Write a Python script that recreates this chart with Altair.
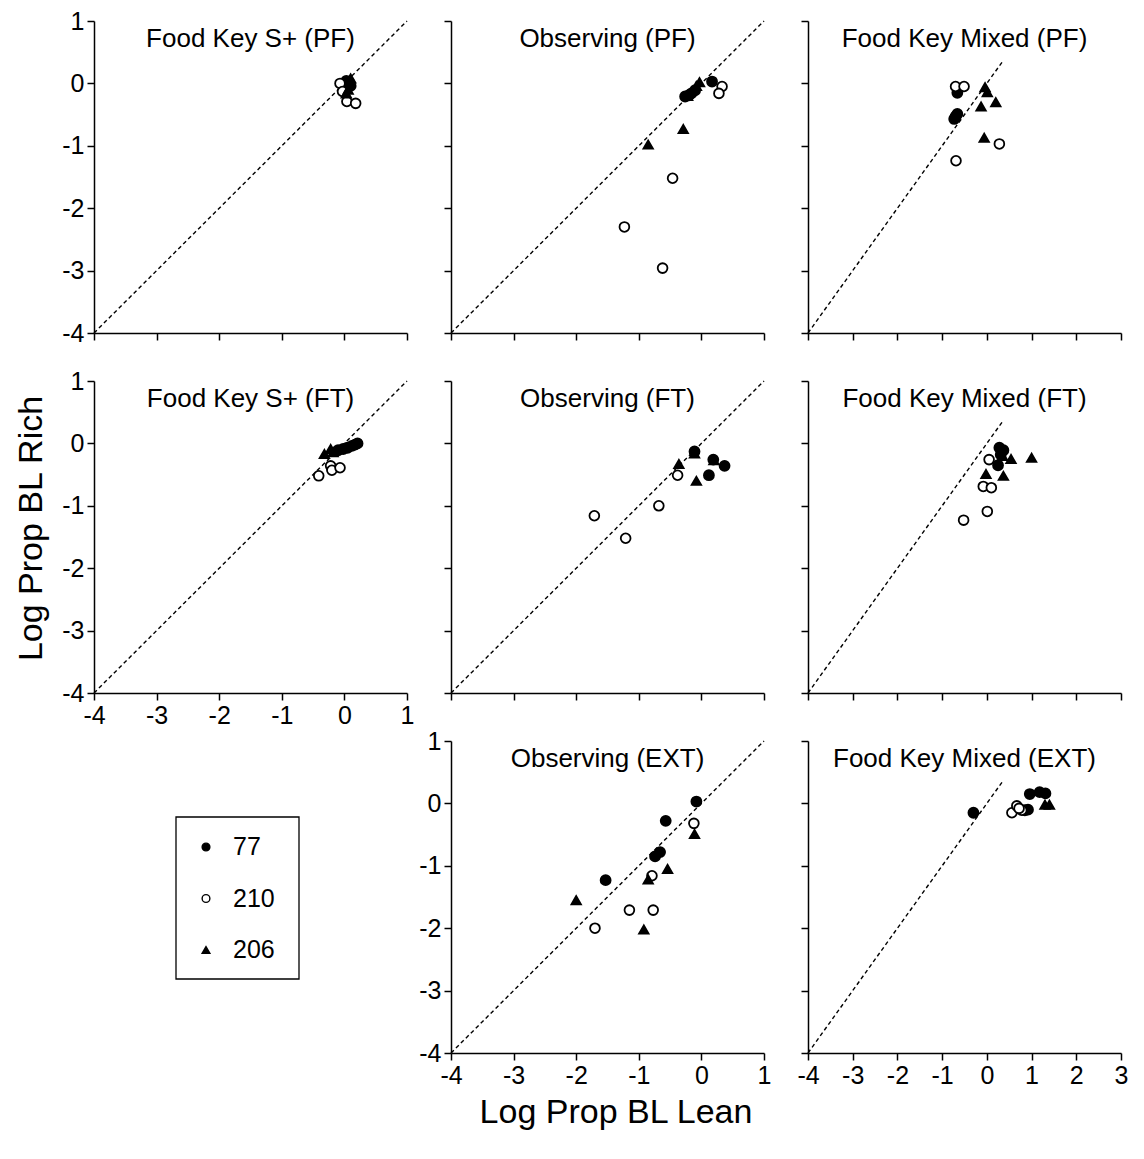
import altair as alt
import pandas as pd

FONT = "Liberation Sans"

SUBJECTS = ["77", "210", "206"]
SHAPES = ["circle", "circle", "triangle-up"]
FILLS = ["black", "white", "black"]

# ---- data: (Log Prop BL Lean, Log Prop BL Rich) pairs per panel and subject ----
FKS_PF_77 = [(0.03, 0.04), (0.08, 0.01), (0.10, -0.04), (0.05, -0.02)]
FKS_PF_210 = [(-0.07, 0.00), (0.04, -0.29), (0.18, -0.32), (-0.03, -0.13)]
FKS_PF_206 = [(0.10, 0.08), (0.06, -0.10), (0.03, -0.16)]

OBS_PF_77 = [(0.17, 0.03), (-0.10, -0.11), (-0.16, -0.16), (-0.20, -0.19), (-0.26, -0.21)]
OBS_PF_210 = [(0.33, -0.05), (0.28, -0.16), (-0.46, -1.52), (-1.23, -2.30), (-0.62, -2.96)]
OBS_PF_206 = [(-0.03, 0.02), (-0.08, -0.04), (-0.29, -0.73), (-0.85, -0.98), (-0.22, -0.20)]

FKM_PF_77 = [(-0.66, -0.15), (-0.66, -0.49), (-0.73, -0.57), (-0.70, -0.53)]
FKM_PF_210 = [(-0.70, -0.05), (-0.51, -0.05), (-0.69, -1.24), (0.28, -0.97)]
FKM_PF_206 = [(-0.04, -0.06), (0.01, -0.14), (-0.13, -0.37), (0.20, -0.30), (-0.06, -0.87)]

FKS_FT_77 = [(-0.10, -0.11), (-0.02, -0.09), (0.05, -0.07), (0.12, -0.04), (0.17, -0.02), (0.21, 0.00)]
FKS_FT_210 = [(-0.41, -0.52), (-0.22, -0.36), (-0.20, -0.43), (-0.07, -0.39)]
FKS_FT_206 = [(-0.32, -0.17), (-0.22, -0.09), (-0.18, -0.14)]

OBS_FT_77 = [(-0.11, -0.13), (0.19, -0.26), (0.37, -0.36), (0.12, -0.51)]
OBS_FT_210 = [(-1.71, -1.16), (-1.21, -1.52), (-0.68, -1.00), (-0.38, -0.51)]
OBS_FT_206 = [(-0.36, -0.33), (-0.11, -0.16), (0.20, -0.27), (-0.08, -0.60)]

FKM_FT_77 = [(0.28, -0.07), (0.37, -0.11), (0.31, -0.18), (0.25, -0.35)]
FKM_FT_210 = [(0.05, -0.26), (-0.08, -0.69), (0.10, -0.71), (0.01, -1.09), (-0.52, -1.23)]
FKM_FT_206 = [(0.54, -0.25), (1.00, -0.23), (-0.02, -0.49), (0.37, -0.52), (0.35, -0.20)]

OBS_EXT_77 = [(-0.08, 0.03), (-0.57, -0.28), (-0.66, -0.78), (-0.74, -0.85), (-1.53, -1.23)]
OBS_EXT_210 = [(-0.12, -0.32), (-0.79, -1.16), (-1.15, -1.71), (-0.77, -1.71), (-1.70, -2.00)]
OBS_EXT_206 = [(-0.11, -0.49), (-0.54, -1.05), (-0.85, -1.22), (-2.00, -1.55), (-0.92, -2.02)]

FKM_EXT_77 = [(-0.30, -0.15), (0.96, 0.15), (1.18, 0.18), (1.31, 0.16), (0.92, -0.10), (0.85, -0.11)]
FKM_EXT_210 = [(0.56, -0.15), (0.67, -0.04), (0.78, -0.11), (0.72, -0.08)]
FKM_EXT_206 = [(1.30, -0.02), (1.40, -0.02)]

# end of the dashed identity line in the wide (-4..3) panels
DIAG_END_SHORT = 0.37

W, H = 313, 312


def panel(title, pts, xmax, diag_end, xlabels, ylabels, xtitle=None, ytitle=None):
    rows = []
    for s, plist in zip(SUBJECTS, pts):
        for x, y in plist:
            rows.append({"lean": x, "rich": y, "subject": s})
    df = pd.DataFrame(rows)
    diag = pd.DataFrame({"lean": [-4, diag_end], "rich": [-4, diag_end]})

    xscale = alt.Scale(domain=[-4, xmax], nice=False, zero=False)
    yscale = alt.Scale(domain=[-4, 1], nice=False, zero=False)
    if xtitle:
        xaxis = alt.Axis(values=list(range(-4, xmax + 1)), labels=xlabels, title=xtitle,
                         labelExpr="'' + datum.value", titlePadding=7, titleX=W / 2 + 8)
    else:
        xaxis = alt.Axis(values=list(range(-4, xmax + 1)), labels=xlabels, title=None,
                         labelExpr="'' + datum.value")
    if ytitle:
        yaxis = alt.Axis(values=list(range(-4, 2)), labels=ylabels, title=ytitle,
                         labelExpr="'' + datum.value", titlePadding=13, titleY=H / 2 - 9)
    else:
        yaxis = alt.Axis(values=list(range(-4, 2)), labels=ylabels, title=None,
                         labelExpr="'' + datum.value")

    line = alt.Chart(diag).mark_line(color="black", strokeDash=[4, 3], strokeWidth=1.4).encode(
        x=alt.X("lean:Q", scale=xscale, axis=xaxis),
        y=alt.Y("rich:Q", scale=yscale, axis=yaxis),
    )
    points = alt.Chart(df).mark_point(filled=True, stroke="black", strokeWidth=1.8, opacity=1).encode(
        x=alt.X("lean:Q", scale=xscale, axis=xaxis),
        y=alt.Y("rich:Q", scale=yscale, axis=yaxis),
        shape=alt.Shape("subject:N", scale=alt.Scale(domain=SUBJECTS, range=SHAPES), legend=None),
        fill=alt.Fill("subject:N", scale=alt.Scale(domain=SUBJECTS, range=FILLS), legend=None),
        size=alt.Size("subject:N", scale=alt.Scale(domain=SUBJECTS, range=[100, 90, 135]), legend=None),
    )
    label = alt.Chart(pd.DataFrame({"t": [title]})).mark_text(
        font=FONT, fontSize=26, color="black", align="center", baseline="alphabetic"
    ).encode(x=alt.value(W / 2), y=alt.value(26), text="t:N")
    return alt.layer(line, points, label).properties(width=W, height=H)


p1 = panel("Food Key S+ (PF)", [FKS_PF_77, FKS_PF_210, FKS_PF_206], 1, 1, False, True)
p2 = panel("Observing (PF)", [OBS_PF_77, OBS_PF_210, OBS_PF_206], 1, 1, False, False)
p3 = panel("Food Key Mixed (PF)", [FKM_PF_77, FKM_PF_210, FKM_PF_206], 3, DIAG_END_SHORT, False, False)
p4 = panel("Food Key S+ (FT)", [FKS_FT_77, FKS_FT_210, FKS_FT_206], 1, 1, True, True,
           ytitle="Log Prop BL Rich")
p5 = panel("Observing (FT)", [OBS_FT_77, OBS_FT_210, OBS_FT_206], 1, 1, False, False)
p6 = panel("Food Key Mixed (FT)", [FKM_FT_77, FKM_FT_210, FKM_FT_206], 3, DIAG_END_SHORT, False, False)
p7 = panel("Observing (EXT)", [OBS_EXT_77, OBS_EXT_210, OBS_EXT_206], 1, 1, True, True,
           xtitle="Log Prop BL Lean")
p8 = panel("Food Key Mixed (EXT)", [FKM_EXT_77, FKM_EXT_210, FKM_EXT_206], 3, DIAG_END_SHORT, True, False)

# ---- legend panel (occupies the empty bottom-left cell) ----
leg_df = pd.DataFrame({"subject": SUBJECTS})
leg_y = alt.Y("subject:N", sort=SUBJECTS,
              scale=alt.Scale(type="point", domain=SUBJECTS, range=[106, 209], padding=0),
              axis=None)
leg_box = alt.Chart(pd.DataFrame({"box": [0]})).mark_rect(
    fillOpacity=0, stroke="black", strokeWidth=1.3
).encode(x=alt.value(82), x2=alt.value(205), y=alt.value(76), y2=alt.value(238))
leg_sym = alt.Chart(leg_df).mark_point(filled=True, stroke="black", strokeWidth=1.4, opacity=1).encode(
    x=alt.value(112), y=leg_y,
    shape=alt.Shape("subject:N", scale=alt.Scale(domain=SUBJECTS, range=SHAPES), legend=None),
    fill=alt.Fill("subject:N", scale=alt.Scale(domain=SUBJECTS, range=FILLS), legend=None),
    size=alt.value(60),
)
leg_txt = alt.Chart(leg_df).mark_text(align="left", baseline="middle", font=FONT, fontSize=25,
                                      color="black").encode(
    x=alt.value(139), y=leg_y, text="subject:N"
)
legend = alt.layer(leg_box, leg_sym, leg_txt).properties(width=W, height=H)

chart = alt.concat(
    p1, p2, p3, p4, p5, p6, legend, p7, p8,
    columns=3,
    spacing={"row": 48, "column": 44},
    bounds="flush",
).properties(
    padding={"left": 6, "top": 0, "right": 5, "bottom": 5}
).configure_view(
    stroke="transparent"
).configure_axis(
    grid=False,
    domainColor="black", domainWidth=1.5,
    tickColor="black", tickWidth=1.5, tickSize=7,
    labelColor="black", labelFont=FONT, labelFontSize=25, labelPadding=3,
    labelFlush=False,
    titleFont=FONT, titleFontSize=34, titleFontWeight="normal", titleColor="black",
)

chart.save("out.html", embed_options={"renderer": "svg", "actions": False})
